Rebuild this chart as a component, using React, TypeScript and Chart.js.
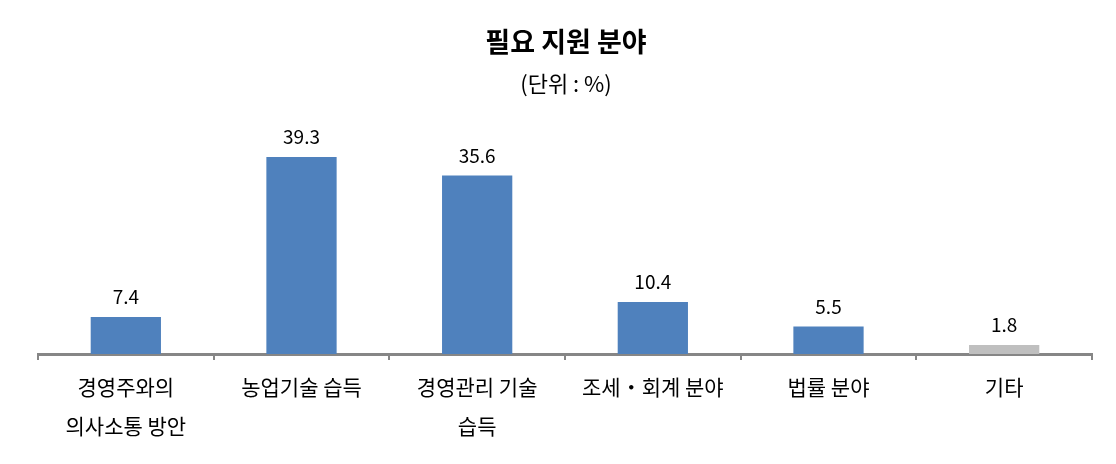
import React, { useEffect, useRef } from "react";
import { Chart, registerables } from "chart.js";

Chart.register(...registerables);

const categories: (string | string[])[] = [
  ["경영주와의", "의사소통 방안"],
  "농업기술 습득",
  ["경영관리 기술", "습득"],
  "조세・회계 분야",
  "법률 분야",
  "기타",
];
const values: number[] = [7.4, 39.3, 35.6, 10.4, 5.5, 1.8];
const barColors: string[] = ["#4F81BD", "#4F81BD", "#4F81BD", "#4F81BD", "#4F81BD", "#BFBFBF"];
const titleText = "필요 지원 분야";
const subtitleText = "(단위 : %)";

const FONT = "'Noto Sans CJK KR', 'Malgun Gothic', sans-serif";

const labelPlugin = {
  id: "valueLabels",
  afterDatasetsDraw(chart: any) {
    const ctx = chart.ctx;
    const meta = chart.getDatasetMeta(0);
    ctx.save();
    ctx.font = `19px ${FONT}`;
    ctx.fillStyle = "#000000";
    ctx.textAlign = "center";
    ctx.textBaseline = "middle";
    meta.data.forEach((bar: any, i: number) => {
      ctx.fillText(values[i].toFixed(1), bar.x, bar.y - 20);
    });
    ctx.restore();
  },
};

const titlePlugin = {
  id: "titles",
  afterDraw(chart: any) {
    const ctx = chart.ctx;
    const cx = chart.width / 2 + 8;
    ctx.save();
    ctx.fillStyle = "#000000";
    ctx.textAlign = "center";
    ctx.textBaseline = "middle";
    ctx.font = `bold 27px ${FONT}`;
    ctx.fillText(titleText, cx, 34);
    ctx.font = `22px ${FONT}`;
    ctx.fillText(subtitleText, cx, 76);
    ctx.restore();
  },
};

export default function App() {
  const ref = useRef<HTMLCanvasElement | null>(null);
  useEffect(() => {
    if (!ref.current) return;
    const chart = new Chart(ref.current, {
      type: "bar",
      data: {
        labels: categories,
        datasets: [
          {
            data: values,
            backgroundColor: barColors,
            borderWidth: 0,
            categoryPercentage: 1,
            barPercentage: 0.4,
          },
        ],
      },
      options: {
        responsive: false,
        animation: false,
        layout: { padding: { top: 120.5, left: 30, right: 16, bottom: 0 } },
        plugins: { legend: { display: false }, tooltip: { enabled: false } },
        scales: {
          x: {
            afterFit: (scale: any) => {
              scale.height = 102;
            },
            border: { display: true, color: "#868686", width: 3 },
            grid: {
              offset: true,
              drawOnChartArea: false,
              drawTicks: true,
              tickLength: 6,
              color: "#868686",
              lineWidth: 2,
            },
            ticks: {
              color: "#000000",
              padding: 8,
              maxRotation: 0,
              autoSkip: false,
              font: { family: FONT, size: 21, lineHeight: 1.85 },
            },
          },
          y: { display: false, min: 0, max: 45 },
        },
      },
      plugins: [labelPlugin, titlePlugin],
    });
    return () => chart.destroy();
  }, []);
  return (
    <div style={{ width: 1100, height: 448 }}>
      <canvas ref={ref} width={1100} height={448} />
    </div>
  );
}
